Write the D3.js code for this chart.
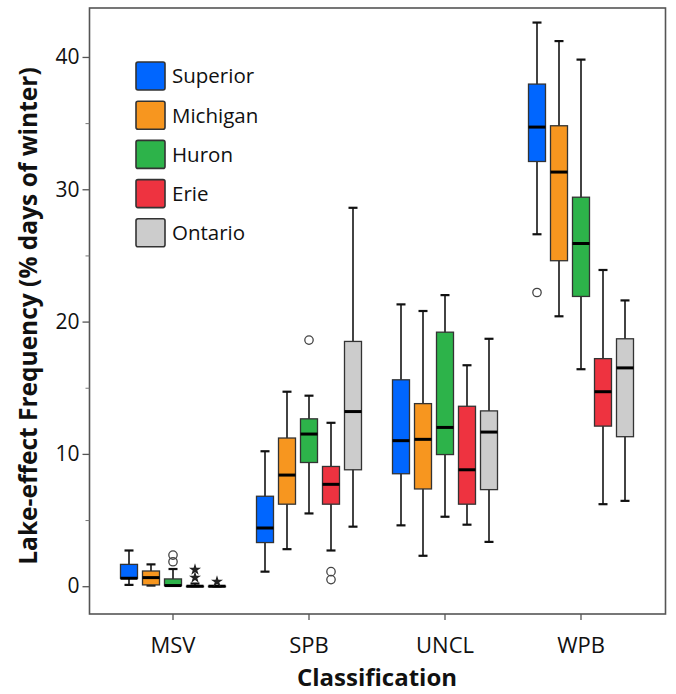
<!DOCTYPE html>
<html>
<head>
<meta charset="utf-8">
<script src="https://cdn.jsdelivr.net/npm/d3@7"></script>
<style>
  body { margin: 0; background: #fff; }
  svg { display: block; }
  text { font-family: "Open Sans", sans-serif; fill: #111; }
</style>
</head>
<body>
<svg id="chart" width="676" height="694"></svg>
<script>
const categories = ["MSV", "SPB", "UNCL", "WPB"];
const lakes = ["Superior", "Michigan", "Huron", "Erie", "Ontario"];
const colors = ["#0066ff", "#f7961f", "#2db34a", "#ee3340", "#cccccc"];

// [low whisker, q1, median, q3, high whisker] per category
const superior = [[0.1, 0.6, 0.6, 1.65, 2.7], [1.1, 3.3, 4.4, 6.8, 10.2], [4.6, 8.5, 11.0, 15.6, 21.3], [26.6, 32.1, 34.7, 37.95, 42.6]];
const michigan = [[0.05, 0.1, 0.65, 1.15, 1.65], [2.8, 6.2, 8.4, 11.2, 14.7], [2.3, 7.35, 11.1, 13.8, 20.8], [20.4, 24.6, 31.3, 34.8, 41.2]];
const huron    = [[0.05, 0.05, 0.05, 0.55, 1.3], [5.5, 9.35, 11.5, 12.65, 14.4], [5.25, 9.95, 12.0, 19.2, 22.0], [16.4, 21.9, 25.9, 29.4, 39.8]];
const erie     = [[0, 0, 0, 0, 0.2], [2.7, 6.2, 7.7, 9.05, 12.35], [4.65, 6.2, 8.8, 13.6, 16.7], [6.2, 12.1, 14.7, 17.2, 23.9]];
const ontario  = [[0, 0, 0, 0, 0], [4.5, 8.8, 13.2, 18.5, 28.6], [3.35, 7.3, 11.65, 13.25, 18.7], [6.45, 11.3, 16.5, 18.7, 21.6]];
const series = [superior, michigan, huron, erie, ontario];

// outliers: [category, lake, value]
const circles = [["MSV", "Huron", 2.35], ["MSV", "Huron", 1.85], ["SPB", "Huron", 18.6],
                 ["SPB", "Erie", 1.1], ["SPB", "Erie", 0.5], ["WPB", "Superior", 22.2]];
const stars = [["MSV", "Erie", 1.25], ["MSV", "Erie", 0.65], ["MSV", "Ontario", 0.35]];

const yMajor = [0, 10, 20, 30, 40];
const yMinor = [5, 15, 25, 35];

const width = 676, height = 694;
const frame = { left: 89.5, top: 8, right: 665.5, bottom: 614 };

const svg = d3.select("#chart");

const x = d3.scaleBand().domain(categories).range([105, 649]);
const xi = d3.scalePoint().domain(lakes).range([-44, 44]);
const y = d3.scaleLinear().domain([-2.1, 43.7]).range([frame.bottom, frame.top]);
const boxW = 17, capW = 9;

// frame
svg.append("rect")
  .attr("x", frame.left).attr("y", frame.top)
  .attr("width", frame.right - frame.left).attr("height", frame.bottom - frame.top)
  .attr("fill", "none").attr("stroke", "#555").attr("stroke-width", 1.6);

// axes
svg.append("g")
  .attr("transform", `translate(${frame.left},0)`)
  .call(d3.axisLeft(y).tickValues(yMajor).tickSize(7).tickPadding(3))
  .call(g => g.select(".domain").remove())
  .call(g => g.selectAll("line").attr("stroke", "#555").attr("stroke-width", 1.3))
  .call(g => g.selectAll("text").attr("font-size", 21).attr("font-family", "Open Sans").attr("fill", "#222"));

svg.append("g")
  .attr("transform", `translate(${frame.left},0)`)
  .call(d3.axisLeft(y).tickValues(yMinor).tickSize(4).tickFormat(""))
  .call(g => g.select(".domain").remove())
  .call(g => g.selectAll("line").attr("stroke", "#777").attr("stroke-width", 1));

svg.append("g")
  .attr("transform", `translate(0,${frame.bottom})`)
  .call(d3.axisBottom(x).tickSize(6).tickPadding(17))
  .call(g => g.select(".domain").remove())
  .call(g => g.selectAll("line").attr("stroke", "#555").attr("stroke-width", 1.3))
  .call(g => g.selectAll("text").attr("font-size", 22).attr("font-family", "Open Sans").attr("fill", "#222"));

svg.append("text")
  .attr("x", 377).attr("y", 686)
  .attr("text-anchor", "middle")
  .attr("font-size", 24).attr("font-weight", "bold")
  .text("Classification");

svg.append("text")
  .attr("transform", "translate(37,316) rotate(-90)")
  .attr("text-anchor", "middle")
  .attr("font-size", 24.5).attr("font-weight", "bold")
  .text("Lake-effect Frequency (% days of winter)");

// boxes
const boxes = [];
series.forEach((s, li) => s.forEach((v, ci) => boxes.push({
  cat: categories[ci], lake: lakes[li], color: colors[li],
  lo: v[0], q1: v[1], med: v[2], q3: v[3], hi: v[4]
})));
const cx = d => x(d.cat) + x.bandwidth() / 2 + xi(d.lake);

const g = svg.append("g");
const box = g.selectAll("g.box").data(boxes).join("g").attr("class", "box");

box.append("line")
  .attr("x1", cx).attr("x2", cx)
  .attr("y1", d => y(d.hi)).attr("y2", d => y(d.lo))
  .attr("stroke", "#222").attr("stroke-width", 1.7);
box.append("line")
  .attr("x1", d => cx(d) - capW / 2).attr("x2", d => cx(d) + capW / 2)
  .attr("y1", d => y(d.hi)).attr("y2", d => y(d.hi))
  .attr("stroke", "#111").attr("stroke-width", 2.2);
box.append("line")
  .attr("x1", d => cx(d) - capW / 2).attr("x2", d => cx(d) + capW / 2)
  .attr("y1", d => y(d.lo)).attr("y2", d => y(d.lo))
  .attr("stroke", "#111").attr("stroke-width", 2.2);
box.append("rect")
  .attr("x", d => cx(d) - boxW / 2).attr("width", boxW)
  .attr("y", d => y(d.q3)).attr("height", d => Math.max(0.5, y(d.q1) - y(d.q3)))
  .attr("fill", d => d.color).attr("stroke", "#333").attr("stroke-width", 1.3);
box.append("line")
  .attr("x1", d => cx(d) - boxW / 2).attr("x2", d => cx(d) + boxW / 2)
  .attr("y1", d => y(d.med)).attr("y2", d => y(d.med))
  .attr("stroke", "#000").attr("stroke-width", 3);

// outliers
const pos = d => x(d[0]) + x.bandwidth() / 2 + xi(d[1]);
g.selectAll("circle.out").data(circles).join("circle")
  .attr("class", "out")
  .attr("cx", pos).attr("cy", d => y(d[2])).attr("r", 4.2)
  .attr("fill", "none").attr("stroke", "#444").attr("stroke-width", 1.3);
g.selectAll("path.star").data(stars).join("path")
  .attr("class", "star")
  .attr("transform", d => `translate(${pos(d)},${y(d[2])})`)
  .attr("d", d3.symbol(d3.symbolStar, 45))
  .attr("fill", "#222");

// legend
const legend = svg.append("g").attr("transform", "translate(136,62)");
const item = legend.selectAll("g").data(lakes).join("g")
  .attr("transform", (d, i) => `translate(0,${i * 39.2})`);
item.append("rect")
  .attr("width", 29).attr("height", 28).attr("rx", 2)
  .attr("fill", (d, i) => colors[i]).attr("stroke", "#333").attr("stroke-width", 1.6);
item.append("text")
  .attr("x", 36).attr("y", 14).attr("dy", "0.36em")
  .attr("font-size", 20.5)
  .text(d => d);
</script>
</body>
</html>
